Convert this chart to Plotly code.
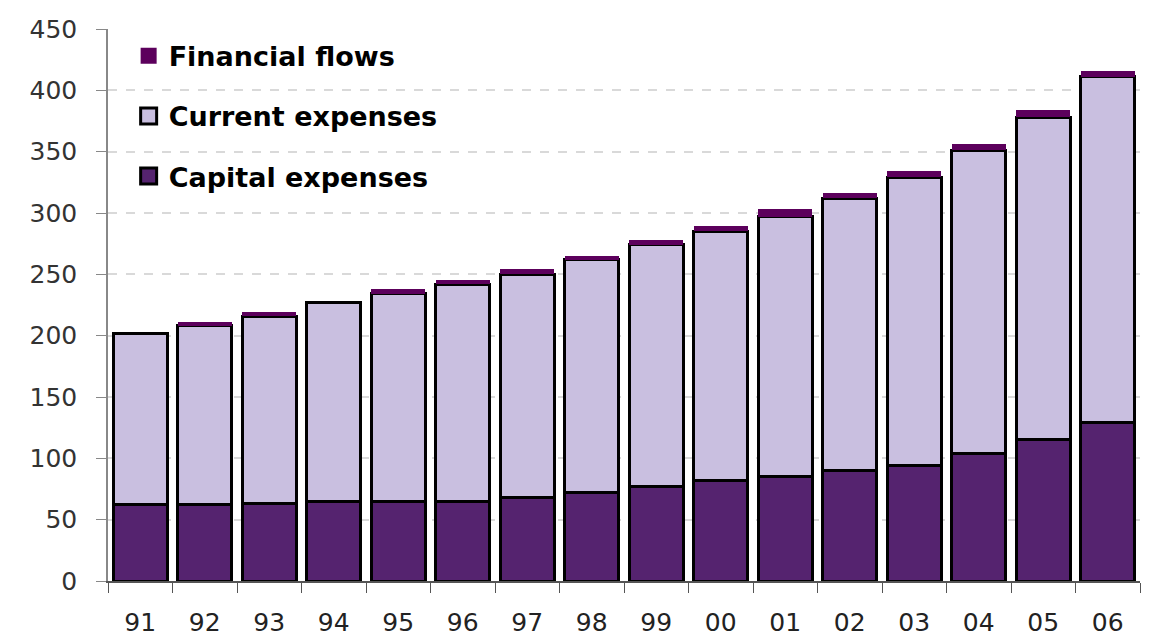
import plotly.graph_objects as go

years = ["91", "92", "93", "94", "95", "96", "97", "98", "99", "00", "01", "02", "03", "04", "05", "06"]
capital = [62, 62, 63, 65, 65, 65, 68, 72, 77, 82, 85, 90, 94, 104, 115, 129]
current = [140, 146, 153, 162, 169, 177, 182, 190, 197, 203, 212, 222, 235, 247, 263, 282]
financial = [0, 3, 3, 0, 4, 3, 4, 3, 4, 4, 6, 4, 5, 5, 6, 5]
y_ticks = [0, 50, 100, 150, 200, 250, 300, 350, 400, 450]

COL_CAP = "#55236f"
COL_CUR = "#c9bfe0"
COL_FIN = "#5c005c"

fig = go.Figure()
fig.add_trace(go.Bar(x=years, y=capital, name="Capital expenses", showlegend=False,
                     marker=dict(color=COL_CAP, line=dict(color="#000000", width=3))))
fig.add_trace(go.Bar(x=years, y=current, name="Current expenses", showlegend=False,
                     marker=dict(color=COL_CUR, line=dict(color="#000000", width=3))))
fig.add_trace(go.Bar(x=years, y=financial, name="Financial flows", showlegend=False,
                     marker=dict(color=COL_FIN, line=dict(width=0))))

# legend proxies (no data points) for larger square swatches
legend_items = [("Financial flows", COL_FIN, 0, 1),
                ("Current expenses", COL_CUR, 3, 2),
                ("Capital expenses", COL_CAP, 3, 3)]
for name, col, lw, rank in legend_items:
    fig.add_trace(go.Scatter(x=[None], y=[None], mode="markers", name=name,
                             legendgroup=name, legendrank=rank,
                             marker=dict(symbol="square", size=16, color=col,
                                         line=dict(color="#000000", width=lw))))

fig.update_layout(
    width=1169, height=642,
    barmode="stack", bargap=0.16,
    margin=dict(l=100, r=37, t=21, b=69, autoexpand=False),
    plot_bgcolor="white", paper_bgcolor="white",
    font=dict(family="DejaVu Sans, Liberation Sans, sans-serif", color="#222222"),
    legend=dict(x=0.02, y=0.995, xanchor="left", yanchor="top",
                traceorder="grouped", tracegroupgap=22, itemsizing="trace",
                font=dict(family="DejaVu Sans", size=27, color="#000000", weight="bold"),
                bgcolor="rgba(0,0,0,0)"),
    showlegend=True,
)
fig.update_yaxes(range=[0, 450], tickvals=y_ticks, ticks="outside", ticklen=10,
                 tickcolor="#888888", tickfont=dict(size=25, color="#333333"),
                 ticklabelstandoff=14, automargin=False,
                 showline=True, linecolor="#888888", linewidth=1.5,
                 showgrid=True, gridcolor="#d9d9d9", griddash="dash", gridwidth=1.5,
                 zeroline=False)
fig.update_xaxes(type="category", ticks="outside", tickson="boundaries", ticklen=10,
                 tickcolor="#555555", tickfont=dict(size=25, color="#222222"),
                 showline=True, linecolor="#555555", linewidth=1.5, automargin=False,
                 ticklabelstandoff=18, showgrid=False)

fig.write_html("out.html")
